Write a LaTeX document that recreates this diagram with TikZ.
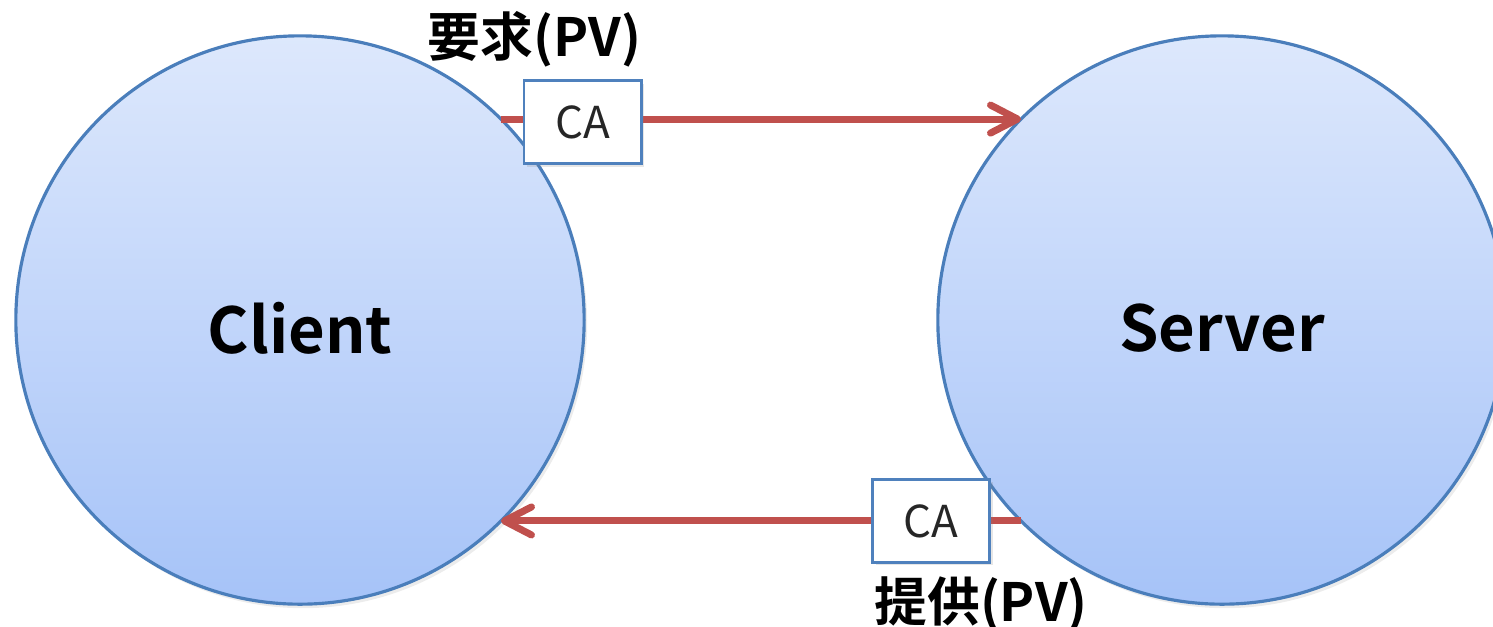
\documentclass[tikz,border=0pt]{standalone}
\usepackage{fontspec}
\setmainfont{Noto Sans CJK JP}[BoldFont={Noto Sans CJK JP Bold}]
\usetikzlibrary{arrows.meta,positioning,shadows}
\definecolor{BallEdge}{HTML}{4A7EBB}
\definecolor{BallTop}{HTML}{DDE8FC}
\definecolor{BallBottom}{HTML}{A6C3F8}
\definecolor{FlowRed}{HTML}{C0504D}
\definecolor{TagEdge}{HTML}{4F81BD}
\definecolor{TagText}{HTML}{262626}

\begin{document}
\begin{tikzpicture}[x=0.01cm,y=-0.01cm,node distance=0.12cm]
    \tikzset{ball/.style={circle,draw=BallEdge,line width=0.9pt,top color=BallTop,bottom color=BallBottom,
      minimum size=5.68cm,inner sep=0pt,outer sep=0pt,font=\fontsize{18}{20}\selectfont\bfseries,
      drop shadow={opacity=0.15,shadow xshift=0.03cm,shadow yshift=-0.04cm}},
      flow/.style={draw=FlowRed,line width=2pt,
      -{Straight Barb[length=0.27cm,width=0.28cm,line cap=round,line join=round]}},
      tag/.style={draw=TagEdge,fill=white,line width=0.8pt,minimum width=1.17cm,minimum height=0.83cm,
      inner sep=0pt,text=TagText,font=\fontsize{12.5}{14}\selectfont,
      drop shadow={opacity=0.2,shadow xshift=0.03cm,shadow yshift=-0.03cm}},
      note/.style={font=\fontsize{15}{17}\selectfont\bfseries,inner sep=0pt}}
    \useasboundingbox (0,0) rectangle (1493,626);
    \node[ball] (client) at (300,320) {\raisebox{-0.08cm}[\height][0pt]{Client}};
    \node[ball] (server) at (1222,320) {\raisebox{-0.08cm}[\height][0pt]{Server}};
    \draw[flow] (client.45) -- node[tag,pos=0.157,yshift=-0.03cm] (reqca) {CA} (server.135);
    \draw[flow] (server.-135) -- node[tag,pos=0.173] (resca) {CA} (client.-45);
    \node[note,above=0.11cm of reqca,xshift=-0.48cm] (req) {要求(PV)};
    \node[note,below=0.12cm of resca,xshift=0.5cm] (res) {提供(PV)};
  \end{tikzpicture}
\end{document}
